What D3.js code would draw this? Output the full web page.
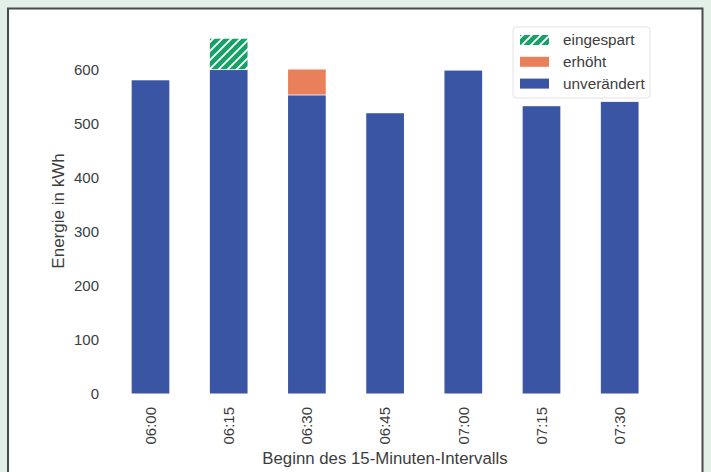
<!DOCTYPE html>
<html>
<head>
<meta charset="utf-8">
<script src="https://cdn.jsdelivr.net/npm/d3@7"></script>
<style>
  html, body { margin: 0; padding: 0; background: #e3f0e8; }
  svg { display: block; font-family: "Liberation Sans", Arial, sans-serif; }
</style>
</head>
<body>
<svg id="chart" width="711" height="472"></svg>
<script>
const categories = ["06:00", "06:15", "06:30", "06:45", "07:00", "07:15", "07:30"];
const unchanged = [580, 599, 552, 519, 598, 532, 540];
const increased = [0, 0, 48, 0, 0, 0, 0];
const saved = [0, 58, 0, 0, 0, 0, 0];
const yTicks = [0, 100, 200, 300, 400, 500, 600];
const legendLabels = ["eingespart", "erhöht", "unverändert"];

const colBlue = "#3a55a4", colOrange = "#ea7f5c", colGreen = "#17a067", textCol = "#3d3d3d";

const svg = d3.select("#chart");

// outer frame
svg.append("rect").attr("x", 0).attr("y", 0).attr("width", 711).attr("height", 472).attr("fill", "#e3f0e8");
svg.append("rect").attr("x", 8).attr("y", 8.5).attr("width", 694.5).attr("height", 480)
  .attr("fill", "#ffffff").attr("stroke", "#4a4a4a").attr("stroke-width", 2);

// hatch pattern
const defs = svg.append("defs");
const pat = defs.append("pattern").attr("id", "hatch").attr("patternUnits", "userSpaceOnUse")
  .attr("width", 9).attr("height", 9);
pat.append("rect").attr("width", 9).attr("height", 9).attr("fill", colGreen);
pat.append("path").attr("d", "M-2,11 L11,-2 M-2,2 L2,-2 M7,11 L11,7")
  .attr("stroke", "#ffffff").attr("stroke-width", 1.8);

const x = d3.scaleBand().domain(categories).range([111.4, 658.8]).paddingInner(0.518).paddingOuter(0.259);
const y = d3.scaleLinear().domain([0, 600]).range([393.5, 69.5]);

const data = categories.map((c, i) => ({ c, u: unchanged[i], inc: increased[i], s: saved[i] }));

// unchanged
svg.append("g").selectAll("rect").data(data).join("rect")
  .attr("x", d => x(d.c)).attr("width", x.bandwidth())
  .attr("y", d => y(d.u)).attr("height", d => y(0) - y(d.u))
  .attr("fill", colBlue);

// increased
svg.append("g").selectAll("rect").data(data.filter(d => d.inc > 0)).join("rect")
  .attr("x", d => x(d.c)).attr("width", x.bandwidth())
  .attr("y", d => y(d.u + d.inc)).attr("height", d => y(d.u) - y(d.u + d.inc) - 0.8)
  .attr("fill", colOrange);

// saved
svg.append("g").selectAll("rect").data(data.filter(d => d.s > 0)).join("rect")
  .attr("x", d => x(d.c)).attr("width", x.bandwidth())
  .attr("y", d => y(d.u + d.s)).attr("height", d => y(d.u) - y(d.u + d.s) - 0.8)
  .attr("fill", "url(#hatch)");

// y axis
const yAxis = d3.axisLeft(y).tickValues(yTicks).tickSize(0).tickPadding(0);
const gy = svg.append("g").attr("transform", "translate(99,0)").call(yAxis);
gy.select(".domain").remove();
gy.selectAll("text").attr("font-size", 15).attr("fill", textCol)
  .attr("font-family", "Liberation Sans, Arial, sans-serif").attr("dy", "0.35em");

// x axis
const xAxis = d3.axisBottom(x).tickSize(0).tickPadding(0);
const gx = svg.append("g").attr("transform", "translate(0,407)").call(xAxis);
gx.select(".domain").remove();
gx.selectAll("text").attr("font-size", 15).attr("fill", textCol)
  .attr("font-family", "Liberation Sans, Arial, sans-serif")
  .attr("transform", "rotate(-90)").attr("text-anchor", "end")
  .attr("x", 0).attr("y", 0).attr("dx", 0).attr("dy", "0.35em");

// axis labels
svg.append("text").attr("x", 385).attr("y", 464).attr("text-anchor", "middle")
  .attr("font-size", 16.8).attr("fill", textCol).text("Beginn des 15-Minuten-Intervalls");
svg.append("text").attr("transform", "translate(64,211) rotate(-90)").attr("text-anchor", "middle")
  .attr("font-size", 17).attr("fill", textCol).text("Energie in kWh");

// legend
const lg = svg.append("g");
lg.append("rect").attr("x", 513).attr("y", 27).attr("width", 137).attr("height", 71).attr("rx", 3)
  .attr("fill", "#ffffff").attr("stroke", "#e2e2e2").attr("stroke-width", 1);
const fills = ["url(#hatch)", colOrange, colBlue];
legendLabels.forEach((lab, i) => {
  const cy = 40 + i * 21.8;
  lg.append("rect").attr("x", 520).attr("y", cy - 5).attr("width", 29).attr("height", 10).attr("fill", fills[i]);
  lg.append("text").attr("x", 563).attr("y", cy).attr("dy", "0.35em")
    .attr("font-size", 15.3).attr("fill", textCol).text(lab);
});
</script>
</body>
</html>
